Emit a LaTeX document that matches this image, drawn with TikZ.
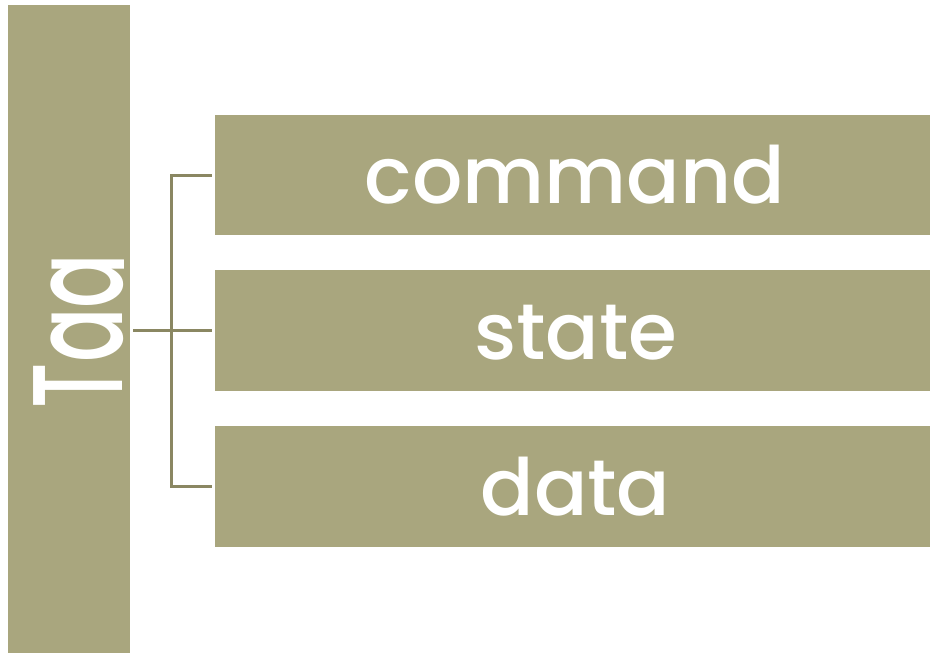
\documentclass[tikz,border=0pt]{standalone}
\usepackage{fontspec}
\usepackage{graphicx}
\setmainfont{Poppins Medium}
\definecolor{boxfill}{HTML}{A9A67E}
\definecolor{linkcol}{HTML}{8A8762}
\begin{document}
\begin{tikzpicture}[x=1pt,y=-1pt,
  label/.style={text=white,font=\fontsize{79}{79}\selectfont,inner sep=0pt,anchor=base},
  link/.style={draw=linkcol,line width=3pt}]
  \useasboundingbox (0,0) rectangle (930,653);
  % left column
  \fill[boxfill] (8,5) rectangle (129.5,653);
  \begin{scope}
    % the vertical label is cut off at its baseline
    \clip (8,5) rectangle (123,653);
    \node[label,rotate=90] (tag) at (122,331) {\scalebox{1.02}[1.62]{Tag}};
  \end{scope}
  \coordinate (root) at (133,330.5);
  % three item bars
  \fill[boxfill] (215,114.7) rectangle (930,235.3);
  \fill[boxfill] (215,270.3) rectangle (930,391.3);
  \fill[boxfill] (215,425.7) rectangle (930,546.7);
  \node[label] (cmd) at (575,203.5) {command};
  \node[label] (st) at (576,359.5) {state};
  \node[label] (dat) at (575.5,515) {data};
  \coordinate (c1) at (212,175);
  \coordinate (c2) at (212,330.5);
  \coordinate (c3) at (212,486);
  % bracket connector
  \draw[link] (root) -- (c2);
  \draw[link] (c1) -| (171.7,330.5) |- (c3);
\end{tikzpicture}
\end{document}
